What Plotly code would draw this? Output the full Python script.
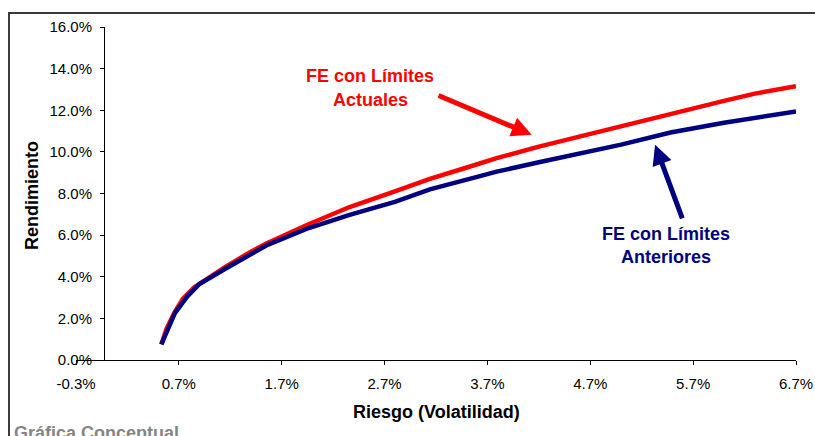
import numpy as np
import plotly.graph_objects as go

# Efficient frontier (risk %, return %) under current limits
riesgo_actual = [0.53, 0.58, 0.66, 0.74, 0.85, 1.00, 1.16, 1.40, 1.55, 1.95, 2.36, 2.80,
                 3.14, 3.50, 3.79, 4.20, 4.60, 5.00, 5.48, 6.00, 6.30, 6.70]
rend_actual = [0.75, 1.50, 2.30, 2.95, 3.50, 4.00, 4.50, 5.20, 5.60, 6.50, 7.35, 8.10,
               8.70, 9.25, 9.70, 10.25, 10.75, 11.25, 11.85, 12.45, 12.80, 13.15]

# Efficient frontier under previous limits
riesgo_anterior = [0.53, 0.60, 0.66, 0.78, 0.90, 1.16, 1.55, 1.94, 2.36, 2.80, 3.14, 3.60,
                   3.79, 4.20, 4.60, 5.00, 5.48, 6.00, 6.70]
rend_anterior = [0.75, 1.50, 2.24, 3.04, 3.65, 4.41, 5.50, 6.30, 6.97, 7.60, 8.20, 8.80,
                 9.05, 9.50, 9.93, 10.35, 10.93, 11.40, 11.94]

# Axis ticks (percent) and their labels
x_ticks = [-0.3, 0.7, 1.7, 2.7, 3.7, 4.7, 5.7, 6.7]
x_tick_labels = ["-0.3%", "0.7%", "1.7%", "2.7%", "3.7%", "4.7%", "5.7%", "6.7%"]
y_ticks = [0, 2, 4, 6, 8, 10, 12, 14, 16]
y_tick_labels = ["0.0%", "2.0%", "4.0%", "6.0%", "8.0%", "10.0%", "12.0%", "14.0%", "16.0%"]

# Callout arrows: (tail risk, tail return) -> (tip risk, tip return), percent
flecha_actual = [(3.21, 12.74), (4.13, 10.82)]
flecha_anterior = [(5.60, 6.73), (5.33, 10.34)]

FONT = "Liberation Sans, Arial, sans-serif"
RED = "#FF0000"
NAVY = "#000080"

W, H = 815, 436
L, R, T, B = 76, 796, 27, 360


def px(x):
    return (x - L) / (R - L)


def py(y):
    return (B - y) / (B - T)


pct = lambda v: np.asarray(v, dtype=float) / 100.0

fig = go.Figure()
fig.add_trace(go.Scatter(x=pct(riesgo_actual), y=pct(rend_actual), mode="lines",
                         line=dict(color=RED, width=4.5), hoverinfo="skip"))
fig.add_trace(go.Scatter(x=pct(riesgo_anterior), y=pct(rend_anterior), mode="lines",
                         line=dict(color=NAVY, width=4.5), hoverinfo="skip"))

annotations = []
for (tail, tip), col in ((flecha_actual, RED), (flecha_anterior, NAVY)):
    annotations.append(dict(
        x=tip[0] / 100, y=tip[1] / 100, ax=tail[0] / 100, ay=tail[1] / 100,
        xref="x", yref="y", axref="x", ayref="y", text="", showarrow=True,
        arrowcolor=col, arrowwidth=5, arrowhead=2, arrowsize=0.8, standoff=0,
    ))

labels = [
    ("FE con Límites", 370, 76, RED),
    ("Actuales", 370, 100, RED),
    ("FE con Límites", 666, 234, NAVY),
    ("Anteriores", 666, 257, NAVY),
]
for txt, x, y, col in labels:
    annotations.append(dict(
        text=f"<b>{txt}</b>", x=px(x), y=py(y), xref="paper", yref="paper",
        xanchor="center", yanchor="middle", showarrow=False,
        font=dict(family=FONT, size=18, color=col),
    ))

annotations.append(dict(
    text="<b>Rendimiento</b>", x=px(32), y=py(196), xref="paper", yref="paper",
    xanchor="center", yanchor="middle", textangle=-90, showarrow=False,
    font=dict(family=FONT, size=18, color="black"),
))
annotations.append(dict(
    text="<b>Riesgo (Volatilidad)</b>", x=px(436), y=py(412), xref="paper", yref="paper",
    xanchor="center", yanchor="middle", showarrow=False,
    font=dict(family=FONT, size=18, color="black"),
))
annotations.append(dict(
    text="<b>Gráfica Conceptual</b>", x=px(12), y=py(433), xref="paper", yref="paper",
    xanchor="left", yanchor="middle", showarrow=False,
    font=dict(family=FONT, size=18, color="#858585"),
))

fig.update_layout(
    width=W, height=H,
    margin=dict(l=L, r=W - R, t=T, b=H - B, pad=0),
    paper_bgcolor="white", plot_bgcolor="white",
    showlegend=False,
    font=dict(family=FONT, size=15, color="black"),
    annotations=annotations,
    shapes=[dict(type="rect", xref="paper", yref="paper",
                 x0=px(9), x1=px(840), y0=py(13), y1=py(460),
                 line=dict(color="#3a3a3a", width=2), layer="below")],
    xaxis=dict(
        range=[-0.003, 0.067], tickvals=pct(x_ticks), ticktext=x_tick_labels,
        automargin=False,
        showgrid=False, zeroline=False, showline=True, linecolor="black", linewidth=1,
        ticks="outside", ticklen=4, tickcolor="black", ticklabelstandoff=6,
        tickfont=dict(family=FONT, size=15, color="black"),
    ),
    yaxis=dict(
        range=[0, 0.16], tickvals=pct(y_ticks), ticktext=y_tick_labels,
        anchor="free", position=px(104), automargin=False,
        showgrid=False, zeroline=False, showline=True, linecolor="black", linewidth=1,
        ticks="outside", ticklen=4, tickcolor="black", ticklabelstandoff=5,
        tickfont=dict(family=FONT, size=15, color="black"),
    ),
)

fig.write_html("out.html")
